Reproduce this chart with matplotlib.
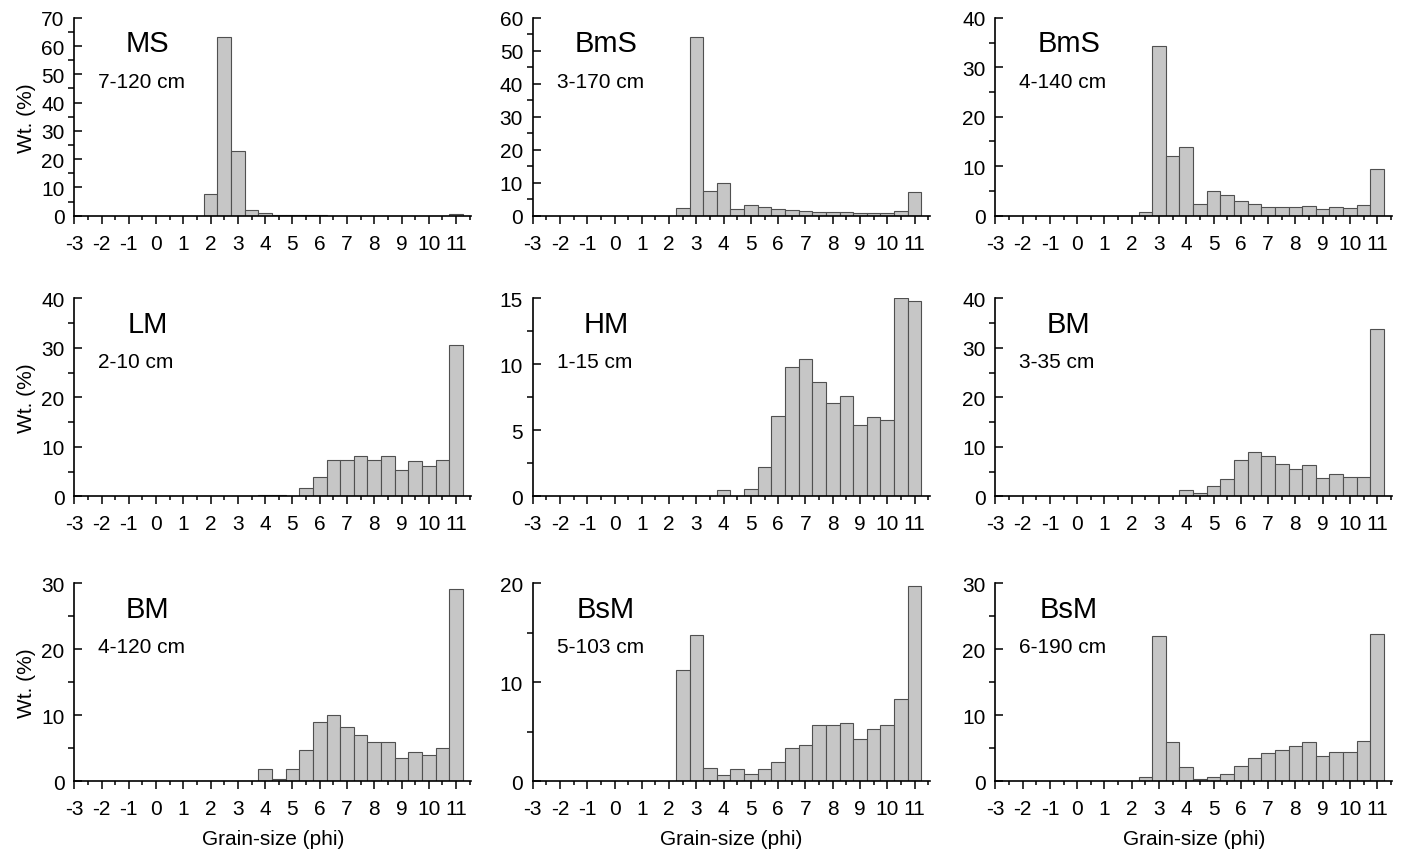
import numpy as np
import matplotlib
matplotlib.use("Agg")
import matplotlib.pyplot as plt
from matplotlib.ticker import MultipleLocator

plt.rcParams['font.family'] = ['Liberation Sans', 'DejaVu Sans']
plt.rcParams['axes.unicode_minus'] = False

# bin centres in phi (0.5 phi classes)
phi = [2.0, 2.5, 3.0, 3.5, 4.0, 4.5, 5.0, 5.5, 6.0, 6.5,
       7.0, 7.5, 8.0, 8.5, 9.0, 9.5, 10.0, 10.5, 11.0]

facies = ['MS', 'BmS', 'BmS', 'LM', 'HM', 'BM', 'BM', 'BsM', 'BsM']
depths = ['7-120 cm', '3-170 cm', '4-140 cm', '2-10 cm', '1-15 cm',
          '3-35 cm', '4-120 cm', '5-103 cm', '6-190 cm']

ms_7_120 = [7.5, 63.3, 23.0, 2.0, 1.0, 0.35, 0.25, 0.2, 0.15, 0.05,
            0, 0, 0, 0, 0, 0, 0, 0, 0.7]
bms_3_170 = [0, 2.2, 54.2, 7.6, 10.0, 2.0, 3.2, 2.6, 2.0, 1.7,
             1.3, 1.0, 1.0, 1.2, 0.9, 0.9, 0.9, 1.5, 7.1]
bms_4_140 = [0, 0.8, 34.2, 12.0, 13.8, 2.3, 5.0, 4.2, 3.0, 2.3,
             1.8, 1.8, 1.8, 2.0, 1.4, 1.7, 1.5, 2.1, 9.4]
lm_2_10 = [0, 0, 0, 0, 0.2, 0.2, 0, 1.6, 3.9, 7.3,
           7.3, 8.1, 7.4, 8.2, 5.3, 7.1, 6.1, 7.4, 30.6]
hm_1_15 = [0, 0, 0, 0, 0.5, 0, 0.55, 2.2, 6.1, 9.8,
           10.4, 8.7, 7.1, 7.6, 5.4, 6.0, 5.8, 15.0, 14.8]
bm_3_35 = [0, 0, 0, 0, 1.2, 0.7, 2.0, 3.5, 7.4, 8.9,
           8.2, 6.6, 5.6, 6.3, 3.7, 4.6, 3.9, 4.0, 33.9]
bm_4_120 = [0, 0, 0, 0, 1.9, 0.3, 1.8, 4.8, 9.0, 10.0,
            8.2, 7.0, 5.9, 5.9, 3.5, 4.4, 3.9, 5.0, 29.2]
bsm_5_103 = [0, 11.2, 14.8, 1.3, 0.65, 1.25, 0.75, 1.25, 1.9, 3.4,
             3.7, 5.7, 5.7, 5.9, 4.3, 5.3, 5.7, 8.3, 19.7]
bsm_6_190 = [0, 0.7, 22.0, 6.0, 2.2, 0.3, 0.7, 1.1, 2.3, 3.5,
             4.3, 4.8, 5.3, 6.0, 3.8, 4.5, 4.5, 6.1, 22.3]

samples = [ms_7_120, bms_3_170, bms_4_140, lm_2_10, hm_1_15,
           bm_3_35, bm_4_120, bsm_5_103, bsm_6_190]
ymax = [70, 60, 40, 40, 15, 40, 30, 20, 30]
ystep = [10, 10, 10, 10, 5, 10, 10, 10, 10]

fig = plt.figure(figsize=(14.02, 8.53), dpi=100)

lefts = [0.053, 0.380, 0.710]
bottoms = [0.746, 0.417, 0.083]
w, h = 0.283, 0.232

for i in range(9):
    r, c = divmod(i, 3)
    ax = fig.add_axes([lefts[c], bottoms[r], w, h])
    ax.bar(phi, samples[i], width=0.5, color='#c6c6c6',
           edgecolor='#505050', linewidth=0.8, zorder=2)
    ax.set_xlim(-3, 11.55)
    ax.set_ylim(0, ymax[i])
    ax.spines['top'].set_visible(False)
    ax.spines['right'].set_visible(False)
    ax.spines['left'].set_linewidth(1.2)
    ax.spines['bottom'].set_linewidth(1.2)
    ax.set_xticks(range(-3, 12))
    ax.xaxis.set_minor_locator(MultipleLocator(0.5))
    ax.yaxis.set_major_locator(MultipleLocator(ystep[i]))
    ax.yaxis.set_minor_locator(MultipleLocator(ystep[i] / 2))
    # x: ticks outward, y: major inward, minor outward
    ax.tick_params(axis='x', which='major', direction='out', length=6,
                   width=1.1, labelsize=15, pad=7)
    ax.tick_params(axis='x', which='minor', direction='out', length=3,
                   width=1.1)
    ax.tick_params(axis='y', which='major', direction='in', length=6,
                   width=1.1, labelsize=15, pad=7)
    ax.tick_params(axis='y', which='minor', direction='out', length=4,
                   width=1.1)
    ax.text(0.185, 0.87, facies[i], transform=ax.transAxes,
            fontsize=21, ha='center', va='center')
    ax.text(0.06, 0.68, depths[i], transform=ax.transAxes,
            fontsize=15, ha='left', va='center')
    if c == 0:
        ax.set_ylabel('Wt. (%)', fontsize=15, labelpad=4)
    if r == 2:
        ax.set_xlabel('Grain-size (phi)', fontsize=15, labelpad=8)

fig.savefig('out.png', dpi=100)
